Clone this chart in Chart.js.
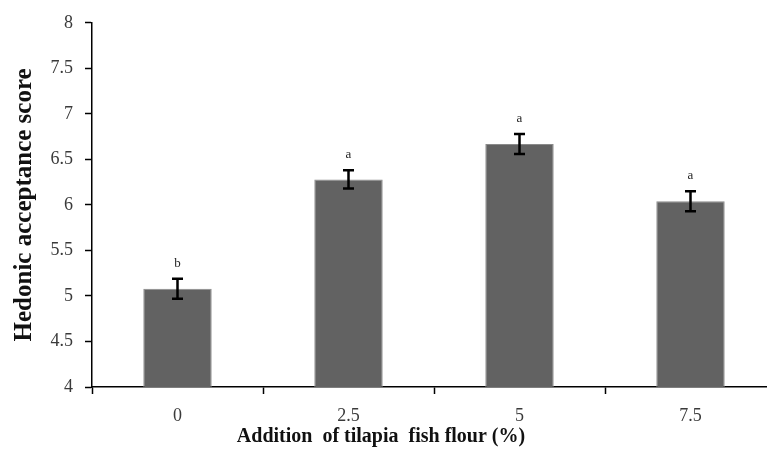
<!DOCTYPE html>
<html>
<head>
<meta charset="utf-8">
<script src="https://cdn.jsdelivr.net/npm/chart.js@4/dist/chart.umd.min.js"></script>
<style>
    html, body { margin: 0; padding: 0; background: #fff; overflow: hidden; }
    #wrap { width: 792px; height: 456px; }
</style>
</head>
<body>
<div id="wrap"><canvas id="scoreChart"></canvas></div>
<script>
// data
const flourLevels = ['0', '2.5', '5', '7.5'];
const acceptanceScores = [5.08, 6.28, 6.67, 6.04];
const scoreErrors = [0.11, 0.1, 0.11, 0.11];
const groupLetters = ['b', 'a', 'a', 'a'];

const serif = "'Liberation Serif', 'Times New Roman', serif";
const xTitle = 'Addition  of tilapia  fish flour (%)';

// error bars + significance letters + x title (the original's title sits left of the axis centre)
const errorBarPlugin = {
    id: 'errorBars',
    afterDatasetsDraw(chart) {
        const ctx = chart.ctx;
        const y = chart.scales.y;
        const meta = chart.getDatasetMeta(0);
        ctx.save();
        meta.data.forEach((bar, i) => {
            const x = bar.x;
            const top = y.getPixelForValue(acceptanceScores[i] + scoreErrors[i]);
            const bottom = y.getPixelForValue(acceptanceScores[i] - scoreErrors[i]);
            ctx.strokeStyle = '#000';
            ctx.lineWidth = 2.5;
            ctx.beginPath();
            ctx.moveTo(x, top);
            ctx.lineTo(x, bottom);
            ctx.moveTo(x - 5.5, top);
            ctx.lineTo(x + 5.5, top);
            ctx.moveTo(x - 5.5, bottom);
            ctx.lineTo(x + 5.5, bottom);
            ctx.stroke();

            ctx.fillStyle = '#222';
            ctx.font = '13px ' + serif;
            ctx.textAlign = 'center';
            ctx.textBaseline = 'bottom';
            ctx.fillText(groupLetters[i], x, top - 9);
        });
        ctx.restore();
    },
    afterDraw(chart) {
        const ctx = chart.ctx;
        const xs = chart.scales.x;
        ctx.save();
        ctx.fillStyle = '#111';
        ctx.font = 'bold 20px ' + serif;
        ctx.textAlign = 'center';
        ctx.textBaseline = 'middle';
        ctx.fillText(xTitle, xs.left + 289, xs.bottom - 19);
        ctx.restore();
    }
};

new Chart(document.getElementById('scoreChart'), {
    type: 'bar',
    data: {
        labels: flourLevels,
        datasets: [{
            data: acceptanceScores,
            backgroundColor: '#626262',
            borderColor: '#8a8a8a',
            borderWidth: 1,
            barPercentage: 0.4,
            categoryPercentage: 1.0
        }]
    },
    options: {
        responsive: true,
        maintainAspectRatio: false,
        animation: false,
        layout: { padding: { top: 13, right: 16, left: 0, bottom: 0 } },
        plugins: {
            legend: { display: false },
            tooltip: { enabled: false }
        },
        scales: {
            x: {
                offset: true,
                grid: {
                    offset: true,
                    drawOnChartArea: false,
                    color: '#000',
                    tickLength: 7,
                    tickWidth: 1.5
                },
                border: { color: '#000', width: 1.5 },
                ticks: {
                    color: '#3a3a3a',
                    padding: 11,
                    font: { family: serif, size: 18 }
                },
                afterFit(scale) { scale.height = 69; }
            },
            y: {
                min: 4,
                max: 8,
                ticks: {
                    stepSize: 0.5,
                    color: '#3a3a3a',
                    padding: 12,
                    font: { family: serif, size: 18 },
                    callback: (v) => String(v)
                },
                grid: {
                    drawOnChartArea: false,
                    color: '#000',
                    tickLength: 7,
                    tickWidth: 1.5
                },
                border: { color: '#000', width: 1.5 },
                title: {
                    display: true,
                    text: 'Hedonic acceptance score',
                    color: '#111',
                    font: { family: serif, size: 25, weight: 'bold' },
                    padding: { top: 10, bottom: 0 }
                },
                afterFit(scale) { scale.width = 92; }
            }
        }
    },
    plugins: [errorBarPlugin]
});
</script>
</body>
</html>
